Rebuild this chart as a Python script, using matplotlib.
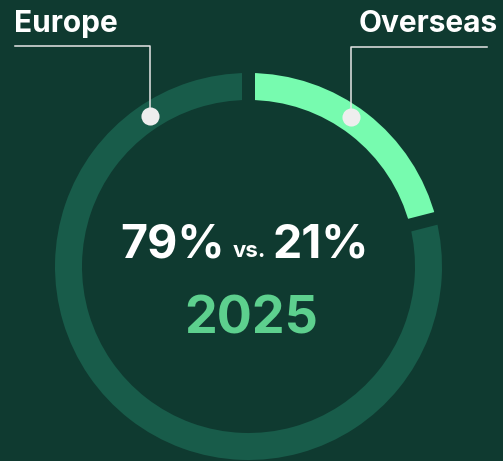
import matplotlib
matplotlib.use("Agg")
import matplotlib.pyplot as plt
import numpy as np

categories = ["Overseas", "Europe"]
shares = [21, 79]
center_left = "79%"
center_mid = "vs."
center_right = "21%"
year = "2025"

BG = "#0f3a30"
EUROPE_C = "#185c4a"
OVERSEAS_C = "#77fbaf"
YEAR_C = "#5dd08e"
LINE_C = "#e6e6e6"

W, H = 503, 461
fig = plt.figure(figsize=(W / 100, H / 100), dpi=100, facecolor=BG)
ax = fig.add_axes([0, 0, 1, 1])
ax.set_facecolor(BG)

def py(y):
    return H - y

cx, cy = 248.5, py(266.5)
R, ring_w = 193.5, 27

ax.pie(shares, colors=[OVERSEAS_C, EUROPE_C], startangle=90, counterclock=False,
       radius=R, center=(cx, cy), wedgeprops=dict(width=ring_w, linewidth=0))

# gaps between segments (constant width)
gap_px = 13
bounds = np.cumsum([0] + shares[:-1]) / sum(shares)
for b in bounds:
    ang = np.deg2rad(90 - 360 * b)
    r0, r1 = R - ring_w - 3, R + 3
    ax.plot([cx + r0 * np.cos(ang), cx + r1 * np.cos(ang)],
            [cy + r0 * np.sin(ang), cy + r1 * np.sin(ang)],
            color=BG, lw=gap_px * 0.72, solid_capstyle="butt", zorder=3)

ax.set_xlim(0, W)
ax.set_ylim(0, H)
ax.set_aspect("equal")
ax.axis("off")

font = "Inter"

# leader lines
ax.plot([15, 150, 150], [py(46), py(46), py(116)], color=LINE_C, lw=1.1, zorder=4)
ax.plot([487, 351, 351], [py(47), py(47), py(117)], color=LINE_C, lw=1.1, zorder=4)
ax.scatter([150, 351], [py(116), py(117)], s=170, color="#eeeeee", zorder=5, linewidths=0)

ax.text(14, py(32), categories[1], color="white", fontsize=21.5, fontweight="bold",
        family=font, ha="left", va="baseline")
ax.text(498, py(32), categories[0], color="white", fontsize=21.5, fontweight="bold",
        family=font, ha="right", va="baseline")

ax.text(173, py(257), center_left, color="white", fontsize=33.5, fontweight="bold",
        family=font, ha="center", va="baseline")
ax.text(249.5, py(257), center_mid, color="white", fontsize=16, fontweight="bold",
        family=font, ha="center", va="baseline")
ax.text(321, py(257), center_right, color="white", fontsize=33.5, fontweight="bold",
        family=font, ha="center", va="baseline")
ax.text(251.5, py(333), year, color=YEAR_C, fontsize=37.5, fontweight="bold",
        family=font, ha="center", va="baseline")

fig.savefig("out.png", dpi=100, facecolor=BG)
